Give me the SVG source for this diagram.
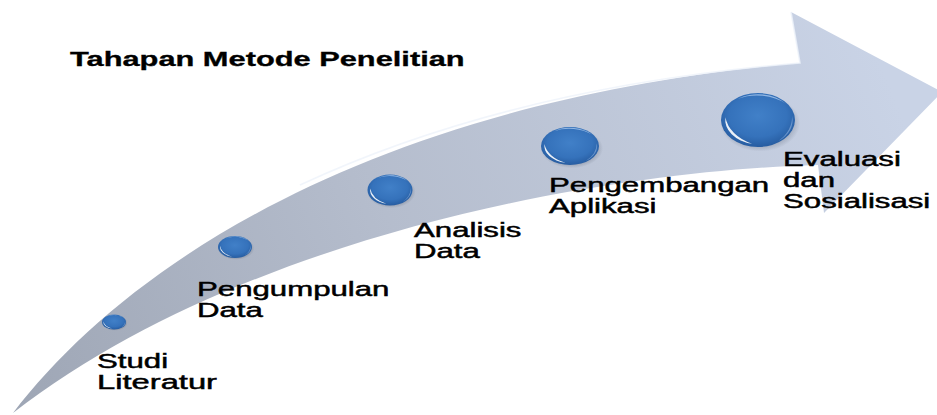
<svg xmlns="http://www.w3.org/2000/svg" xmlns:xlink="http://www.w3.org/1999/xlink" width="937" height="415" viewBox="0 0 937 415">
  <style>
    .lbl { font-family: "Liberation Sans", Arial, sans-serif; font-size: 19.5px; fill: #000; stroke: #000; stroke-width: 0.45px; }
    .title { font-family: "Liberation Sans", Arial, sans-serif; font-size: 19.5px; font-weight: bold; fill: #000; stroke: #000; stroke-width: 0.3px; }
  </style>
  <defs>
    <linearGradient id="arrowFill" gradientUnits="userSpaceOnUse" x1="13" y1="413" x2="880" y2="60">
      <stop offset="0" stop-color="#9ea6b5"/>
      <stop offset="0.45" stop-color="#b5bdcd"/>
      <stop offset="1" stop-color="#c9d3e6"/>
    </linearGradient>
    <radialGradient id="dotFill" cx="0.5" cy="0.42" r="0.6">
      <stop offset="0" stop-color="#4180c8"/>
      <stop offset="0.65" stop-color="#3572bb"/>
      <stop offset="1" stop-color="#255a9e"/>
    </radialGradient>
    <radialGradient id="dotShadow" cx="0.5" cy="0.5" r="0.5">
      <stop offset="0.7" stop-color="#3a4456" stop-opacity="0.35"/>
      <stop offset="1" stop-color="#3a4456" stop-opacity="0"/>
    </radialGradient>
    <symbol id="dot" viewBox="-1.2 -1.2 2.4 2.4" preserveAspectRatio="none">
      <ellipse cx="0.06" cy="0.12" rx="1.08" ry="1.05" fill="url(#dotShadow)"/>
      <circle cx="0" cy="0" r="1" fill="url(#dotFill)"/>
      <path d="M -0.16 0.88 A 0.9 0.9 0 0 1 -0.88 -0.1 A 1.25 1.25 0 0 0 -0.16 0.88 Z" fill="#ffffff" opacity="0.9"/>
      <path d="M -0.55 -0.78 A 0.96 0.96 0 0 1 0.75 -0.6 A 1.15 1.15 0 0 0 -0.55 -0.78 Z" fill="#a9c8ee" opacity="0.8"/>
      <path d="M 0.92 -0.15 A 0.95 0.95 0 0 1 0.55 0.78 A 1.3 1.3 0 0 0 0.92 -0.15 Z" fill="#8fb3e0" opacity="0.6"/>
    </symbol>
  </defs>

  <g id="arrow">
    <path d="M13,413 C130,260 380,100 800,63 L791,12 L942,92 L824,213 L818,165 C620,170 250,230 13,413 Z" fill="url(#arrowFill)"/>
    <path d="M300,185 C450,115 620,78 800,63 L791,12" fill="none" stroke="#eef2fa" stroke-width="1.6" opacity="0.8"/>
  </g>

  <g id="title">
    <text class="title" transform="translate(70,66) scale(1.58,1)">Tahapan Metode Penelitian</text>
  </g>

  <g id="connectors"></g>

  <g id="node-studi">
    <use href="#dot" xlink:href="#dot" x="99.6" y="313" width="28.8" height="18"/>
    <text class="lbl" transform="translate(97,368) scale(1.6,1)"><tspan x="0" y="0">Studi</tspan><tspan x="0" y="21" textLength="75" lengthAdjust="spacingAndGlyphs">Literatur</tspan></text>
  </g>

  <g id="node-pengumpulan">
    <use href="#dot" xlink:href="#dot" x="214.6" y="233.8" width="40.8" height="26.4"/>
    <text class="lbl" transform="translate(197,296) scale(1.6,1)"><tspan x="0" y="0">Pengumpulan</tspan><tspan x="0" y="21">Data</tspan></text>
  </g>

  <g id="node-analisis">
    <use href="#dot" xlink:href="#dot" x="363" y="171.4" width="54" height="37.2"/>
    <text class="lbl" transform="translate(414,237) scale(1.6,1)"><tspan x="0" y="0">Analisis</tspan><tspan x="0" y="21">Data</tspan></text>
  </g>

  <g id="node-pengembangan">
    <use href="#dot" xlink:href="#dot" x="535.2" y="123.2" width="69.6" height="45.6"/>
    <text class="lbl" transform="translate(549,192) scale(1.6,1)"><tspan x="0" y="0">Pengembangan</tspan><tspan x="0" y="21">Aplikasi</tspan></text>
  </g>

  <g id="node-evaluasi">
    <use href="#dot" xlink:href="#dot" x="713.6" y="87.6" width="88.8" height="64.8"/>
    <text class="lbl" transform="translate(783,166) scale(1.6,1)"><tspan x="0" y="0">Evaluasi</tspan><tspan x="0" y="21">dan</tspan><tspan x="0" y="42">Sosialisasi</tspan></text>
  </g>
</svg>
